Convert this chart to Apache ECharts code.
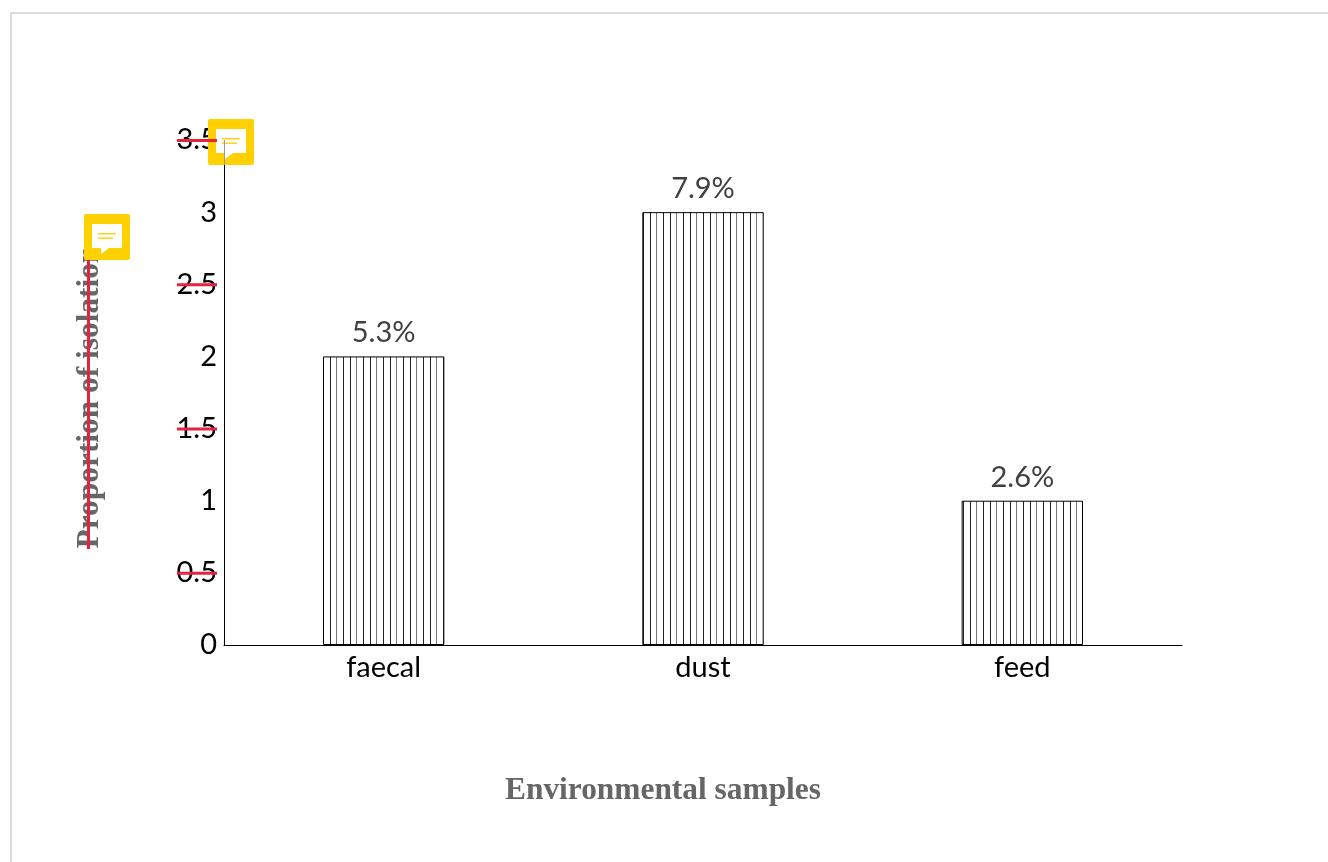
<!DOCTYPE html>
<html lang="en">
<head>
    <meta charset="UTF-8">
    <title>Environmental samples</title>
    <script src="https://cdn.jsdelivr.net/npm/echarts@6/dist/echarts.min.js"></script>
    <style>
        html, body { margin: 0; padding: 0; background: #fff; }
    </style>
</head>
<body>
<div id="container" style="width: 1328px; height: 862px"></div>

<script type="text/javascript">
    var categories = ['faecal', 'dust', 'feed'];
    var isolates = [2, 3, 1];
    var percentLabels = ['5.3%', '7.9%', '2.6%'];
    var yTicks = { min: 0, max: 3.5, interval: 0.5 };
    var strikeTicks = [3.5, 2.5, 1.5, 0.5];

    var myChart = echarts.init(document.getElementById('container'), null, { renderer: 'canvas' });

    // vertical hatching for the bars, three lines every 20px
    function hatch() {
        var c = document.createElement('canvas');
        c.width = 20;
        c.height = 4;
        var ctx = c.getContext('2d');
        ctx.fillStyle = '#fff';
        ctx.fillRect(0, 0, 20, 4);
        ctx.fillStyle = '#222';
        ctx.fillRect(3, 0, 1, 4);
        ctx.fillRect(10, 0, 1, 4);
        ctx.fillStyle = '#777';
        ctx.fillRect(16, 0, 1, 4);
        return c;
    }

    // yellow comment badge, z goes on each child because the group does not pass it down
    function badge(x, y, extra) {
        var children = [
            { type: 'rect', z: 100, shape: { x: 0, y: 0, width: 46, height: 46, r: 2 }, style: { fill: '#ffd100' } },
            { type: 'polygon', z: 101, shape: { points: [[8, 10], [38, 10], [38, 34], [25, 34], [17, 40], [17, 34], [8, 34]] }, style: { fill: '#fff' } },
            { type: 'rect', z: 102, shape: { x: 14, y: 19, width: 18, height: 1.4 }, style: { fill: '#ffd100' } },
            { type: 'rect', z: 102, shape: { x: 14, y: 23.5, width: 15, height: 1.4 }, style: { fill: '#ffd100' } }
        ];
        return { type: 'group', x: x, y: y, children: children.concat(extra || []) };
    }

    var option = {
        animation: false,
        backgroundColor: '#fff',
        title: {
            text: 'Environmental samples',
            left: 500,
            top: 770,
            textStyle: { fontFamily: 'Liberation Serif', fontSize: 31.4, fontWeight: 'bold', color: '#666666' }
        },
        grid: { left: 224, right: 146, top: 140, bottom: 217 },
        xAxis: {
            type: 'category',
            data: categories,
            axisLine: { lineStyle: { color: '#000', width: 1 } },
            axisTick: { show: false },
            axisLabel: { color: '#000', fontFamily: 'Lato', fontSize: 29, margin: 8 }
        },
        yAxis: {
            type: 'value',
            min: yTicks.min,
            max: yTicks.max,
            interval: yTicks.interval,
            name: 'Proportion of isolation',
            nameLocation: 'middle',
            nameGap: 119,
            nameTextStyle: { fontFamily: 'Liberation Serif', fontSize: 31.4, fontWeight: 'bold', color: '#666666', padding: [0, 9, 0, 0] },
            splitLine: { show: false },
            axisTick: { show: false },
            axisLine: { show: true, lineStyle: { color: '#000', width: 1 } },
            axisLabel: { color: '#000', fontFamily: 'Lato', fontSize: 29, margin: 7 }
        },
        series: [
            {
                type: 'bar',
                data: isolates,
                barWidth: '38%',
                itemStyle: {
                    color: { image: hatch(), repeat: 'repeat' },
                    borderColor: '#000',
                    borderWidth: 1
                },
                label: {
                    show: true,
                    position: 'top',
                    distance: 9,
                    color: '#404040',
                    fontFamily: 'Lato',
                    fontSize: 29,
                    formatter: function (p) { return percentLabels[p.dataIndex]; }
                }
            }
        ]
    };
    myChart.setOption(option);

    // page frame, red review strokes and comment badges go on top of the chart
    var overlay = [
        { type: 'rect', shape: { x: 10, y: 12, width: 2, height: 850 }, style: { fill: '#dcdcdc' }, z: 90 },
        { type: 'rect', shape: { x: 10, y: 12, width: 1318, height: 2 }, style: { fill: '#dcdcdc' }, z: 90 },
        { type: 'rect', shape: { x: 87, y: 255, width: 3, height: 294 }, style: { fill: '#e8213f' }, z: 90 }
    ];
    overlay.push(badge(208, 119, [
        // the axis line shows faintly through the badge
        { type: 'rect', z: 103, shape: { x: 16, y: 21, width: 1, height: 25 }, style: { fill: '#999' } }
    ]));
    overlay.push(badge(84, 214));
    strikeTicks.forEach(function (t) {
        overlay.push({
            type: 'rect',
            shape: { x: 177, y: myChart.convertToPixel({ yAxisIndex: 0 }, t) - 1, width: 40, height: 3 },
            style: { fill: '#e8213f' },
            z: 110
        });
    });
    myChart.setOption({ graphic: overlay });

    window.addEventListener('resize', myChart.resize);
</script>
</body>
</html>
